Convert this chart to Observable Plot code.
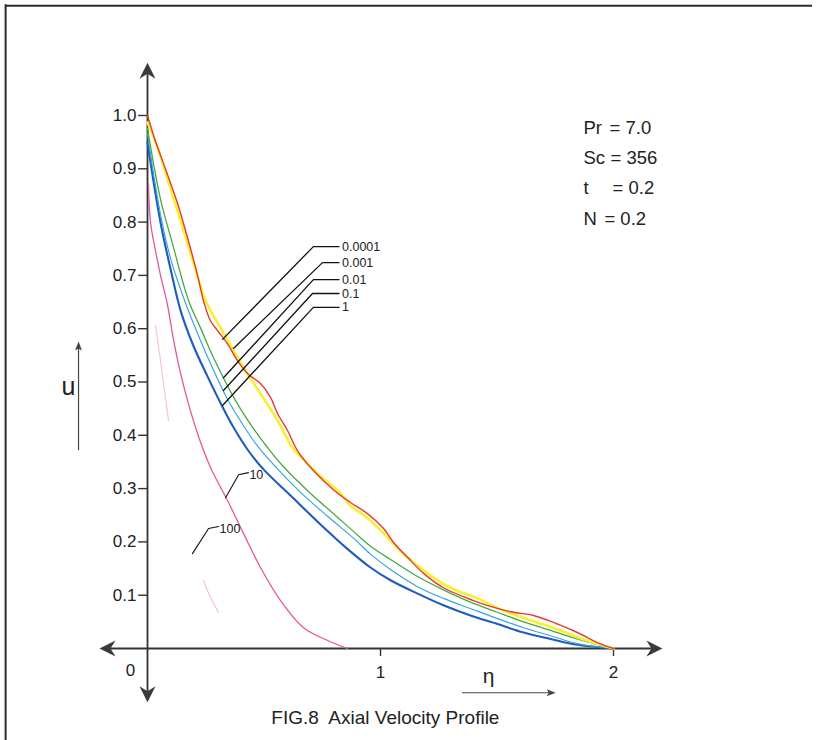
<!DOCTYPE html>
<html>
<head>
<meta charset="utf-8">
<script src="https://cdn.jsdelivr.net/npm/d3@7"></script>
<script src="https://cdn.jsdelivr.net/npm/@observablehq/plot@0.6"></script>
<style>
html, body { margin: 0; padding: 0; background: #fff; overflow: hidden; }
#wrap { width: 822px; height: 740px; overflow: hidden; background: #fff; }
#wrap svg { display: block; }
</style>
</head>
<body>
<div id="wrap"></div>
<script>
// ---------------- data ----------------
const seriesNames = ["0.0001", "0.001", "0.01", "0.1", "1", "10", "100"];

const etaRed = [0, 0.034, 0.077, 0.129, 0.185, 0.215, 0.240, 0.270, 0.300, 0.343, 0.386, 0.429, 0.485, 0.528, 0.558, 0.601, 0.644, 0.712, 0.798, 0.871, 0.944, 1.013, 1.056, 1.116, 1.185, 1.270, 1.399, 1.472, 1.558, 1.657, 1.742, 1.845, 1.931, 2.0];
const uRed   = [1.0, 0.952, 0.900, 0.835, 0.750, 0.700, 0.653, 0.615, 0.597, 0.572, 0.540, 0.516, 0.497, 0.471, 0.441, 0.409, 0.371, 0.334, 0.298, 0.274, 0.253, 0.225, 0.199, 0.171, 0.141, 0.114, 0.090, 0.079, 0.069, 0.062, 0.049, 0.030, 0.011, 0.0];

const etaYellow = [0, 0.043, 0.086, 0.142, 0.197, 0.249, 0.313, 0.369, 0.429, 0.485, 0.558, 0.622, 0.657, 0.730, 0.828, 0.871, 0.944, 1.013, 1.086, 1.202, 1.300, 1.416, 1.528, 1.644, 1.760, 1.871, 2.0];
const uYellow   = [0.987, 0.940, 0.880, 0.803, 0.724, 0.653, 0.602, 0.559, 0.516, 0.478, 0.428, 0.377, 0.360, 0.328, 0.291, 0.268, 0.245, 0.216, 0.183, 0.141, 0.114, 0.094, 0.071, 0.053, 0.036, 0.017, 0.0];

const etaGreen = [0, 0.030, 0.060, 0.107, 0.176, 0.227, 0.283, 0.378, 0.451, 0.519, 0.571, 0.687, 0.798, 0.914, 0.957, 1.043, 1.159, 1.270, 1.386, 1.502, 1.614, 1.730, 1.815, 1.901, 2.0];
const uGreen   = [0.976, 0.900, 0.835, 0.760, 0.653, 0.602, 0.546, 0.465, 0.415, 0.375, 0.347, 0.296, 0.253, 0.208, 0.192, 0.167, 0.135, 0.110, 0.087, 0.068, 0.050, 0.034, 0.022, 0.011, 0.0];

const etaLightBlue = [0, 0.030, 0.060, 0.100, 0.159, 0.215, 0.270, 0.343, 0.412, 0.472, 0.541, 0.657, 0.773, 0.884, 0.957, 1.043, 1.159, 1.270, 1.386, 1.502, 1.614, 1.730, 1.845, 2.0];
const uLightBlue   = [0.966, 0.880, 0.805, 0.730, 0.653, 0.591, 0.535, 0.468, 0.418, 0.380, 0.345, 0.293, 0.248, 0.207, 0.177, 0.148, 0.116, 0.094, 0.075, 0.056, 0.039, 0.024, 0.009, 0.0];

const etaBlue = [0, 0.030, 0.060, 0.100, 0.142, 0.197, 0.258, 0.313, 0.369, 0.433, 0.498, 0.614, 0.730, 0.858, 0.957, 1.043, 1.159, 1.270, 1.386, 1.502, 1.614, 1.730, 1.845, 2.0];
const uBlue   = [0.950, 0.865, 0.790, 0.710, 0.634, 0.568, 0.510, 0.461, 0.415, 0.371, 0.336, 0.287, 0.238, 0.187, 0.152, 0.128, 0.103, 0.081, 0.062, 0.046, 0.030, 0.018, 0.007, 0.0];

const etaPink = [0.004, 0.013, 0.034, 0.056, 0.086, 0.112, 0.142, 0.172, 0.215, 0.270, 0.343, 0.412, 0.485, 0.571, 0.670, 0.773, 0.858];
const uPink   = [0.872, 0.799, 0.747, 0.700, 0.644, 0.578, 0.516, 0.465, 0.403, 0.340, 0.278, 0.216, 0.152, 0.090, 0.039, 0.015, 0.0];

// the N=100 curve is only faintly visible in two pieces
const etaFaint = [0.034, 0.056, 0.073, 0.090, 0.165, 0.240, 0.270, 0.305];
const uFaint   = [0.606, 0.540, 0.484, 0.428, NaN, 0.128, 0.096, 0.068];

const yTicks = [0.1, 0.2, 0.3, 0.4, 0.5, 0.6, 0.7, 0.8, 0.9, 1.0];
const xTicks = [0, 1, 2];

const paramNames  = ["Pr", "Sc", "t", "N"];
const paramValues = ["= 7.0", "= 356", "= 0.2", "= 0.2"];

const axisLabelY = "u";
const axisLabelX = "η";
const caption = "FIG.8  Axial Velocity Profile";

// leader lines for the curve labels (data coordinates)
const leaderLabels  = ["0.0001", "0.001", "0.01", "0.1", "1"];
const leaderEndEta  = [0.322, 0.369, 0.326, 0.326, 0.322];
const leaderEndU    = [0.580, 0.563, 0.508, 0.484, 0.456];
const leaderKneeEta = [0.712, 0.751, 0.712, 0.708, 0.712];
const leaderKneeU   = [0.754, 0.724, 0.692, 0.666, 0.640];
const leaderTextEta = 0.822;

// ---------------- helpers ----------------
const rows = (eta, u, name) => eta.map((e, i) => ({eta: e, u: u[i], name}));
const red = rows(etaRed, uRed, seriesNames[0]);
const yellow = rows(etaYellow, uYellow, seriesNames[1]);
const green = rows(etaGreen, uGreen, seriesNames[2]);
const lightBlue = rows(etaLightBlue, uLightBlue, seriesNames[3]);
const blue = rows(etaBlue, uBlue, seriesNames[4]);
const pink = rows(etaPink, uPink, seriesNames[5]);
const faint = rows(etaFaint, uFaint, seriesNames[6]);

const leaders = [];
leaderLabels.forEach((lab, i) => {
  leaders.push({k: lab, eta: leaderEndEta[i], u: leaderEndU[i]});
  leaders.push({k: lab, eta: leaderKneeEta[i], u: leaderKneeU[i]});
  leaders.push({k: lab, eta: leaderTextEta, u: leaderKneeU[i]});
});
const leader10 = [{k: "10", eta: 0.335, u: 0.283}, {k: "10", eta: 0.391, u: 0.326}, {k: "10", eta: 0.433, u: 0.330}];
const leader100 = [{k: "100", eta: 0.193, u: 0.178}, {k: "100", eta: 0.262, u: 0.225}, {k: "100", eta: 0.305, u: 0.229}];

// layout of the parameter block
const paramEqX = [1.983, 1.987, 1.996, 1.961];
const paramY = (d, i) => 0.976 - i * 0.0565;

function arrowHead(dir, L, W, N) {
  const rot = {up: 0, right: 90, down: 180, left: 270}[dir] * Math.PI / 180;
  const c = Math.cos(rot), s = Math.sin(rot);
  const pts = [[0, 0], [W, L], [0, L - N], [-W, L]];
  return {
    draw(ctx) {
      pts.forEach(([x, y], i) => {
        const X = x * c - y * s, Y = x * s + y * c;
        if (i) ctx.lineTo(X, Y); else ctx.moveTo(X, Y);
      });
      ctx.closePath();
    }
  };
}

const axisColor = "#333";
const ink = "#222";

const plot = Plot.plot({
  width: 822,
  height: 740,
  margin: 0,
  style: {fontFamily: "'Liberation Sans', Arial, sans-serif", background: "#fff", overflow: "visible"},
  x: {domain: [0, 2], range: [147, 613], axis: null},
  y: {domain: [0, 1], range: [648, 115], axis: null},
  marks: [
    // outer frame (top and left edges only)
    Plot.ruleY([1.206], {x1: -0.609, x2: 2.854, stroke: "#2b2b2b", strokeWidth: 2}),
    Plot.ruleX([-0.609], {y1: 1.208, y2: -0.2, stroke: "#2b2b2b", strokeWidth: 2}),
    // axes
    Plot.ruleY([0], {x1: -0.19, x2: 2.19, stroke: axisColor, strokeWidth: 1.8}),
    Plot.ruleX([0], {y1: -0.09, y2: 1.09, stroke: axisColor, strokeWidth: 1.8}),
    Plot.dot([{x: 0, y: 1.099}], {x: "x", y: "y", symbol: arrowHead("up", 16, 8, 5), fill: "#3a3a3a", stroke: "none"}),
    Plot.dot([{x: 0, y: -0.101}], {x: "x", y: "y", symbol: arrowHead("down", 16, 8, 5), fill: "#3a3a3a", stroke: "none"}),
    Plot.dot([{x: -0.206, y: 0}], {x: "x", y: "y", symbol: arrowHead("left", 16, 8, 5), fill: "#3a3a3a", stroke: "none"}),
    Plot.dot([{x: 2.21, y: 0}], {x: "x", y: "y", symbol: arrowHead("right", 16, 8, 5), fill: "#3a3a3a", stroke: "none"}),
    // y ticks and labels
    Plot.ruleY(yTicks, {x1: -0.038, x2: 0, stroke: axisColor, strokeWidth: 1.4}),
    Plot.text(yTicks, {x: 0, y: d => d, text: d => d.toFixed(1), textAnchor: "end", dx: -11, fontSize: 17, fill: ink}),
    // x ticks and labels
    Plot.ruleX(xTicks.filter(d => d > 0), {y1: 0, y2: -0.015, stroke: axisColor, strokeWidth: 1.4}),
    Plot.text(xTicks.filter(d => d > 0), {x: d => d, y: 0, text: d => String(d), dy: 24, fontSize: 17, fill: ink}),
    Plot.text(xTicks.filter(d => d === 0), {x: d => d, y: 0, text: d => String(d), dx: -17, dy: 22, fontSize: 17, fill: ink}),
    // axis titles with their arrows
    Plot.text([axisLabelY], {x: -0.339, y: 0.49, text: d => d, fontSize: 25, fill: ink}),
    Plot.ruleX([-0.296], {y1: 0.371, y2: 0.565, stroke: "#444", strokeWidth: 1.2}),
    Plot.dot([{x: -0.296, y: 0.576}], {x: "x", y: "y", symbol: arrowHead("up", 9, 3.5, 2), fill: "#444", stroke: "none"}),
    Plot.text([axisLabelX], {x: 1.464, y: -0.052, text: d => d, fontSize: 21, fill: ink}),
    Plot.ruleY([-0.083], {x1: 1.352, x2: 1.735, stroke: "#444", strokeWidth: 1.2}),
    Plot.dot([{x: 1.752, y: -0.083}], {x: "x", y: "y", symbol: arrowHead("right", 9, 3.5, 2), fill: "#444", stroke: "none"}),
    // caption
    Plot.text([caption], {x: 1.021, y: -0.131, text: d => d, fontSize: 19, fill: ink}),
    // parameters
    Plot.text(paramNames, {x: 1.871, y: paramY, text: d => d, textAnchor: "start", fontSize: 18.5, fill: ink}),
    Plot.text(paramValues, {x: (d, i) => paramEqX[i], y: paramY, text: d => d, textAnchor: "start", fontSize: 18.5, fill: ink}),
    // curves
    Plot.line(faint, {x: "eta", y: "u", stroke: "#f3c3d8", strokeWidth: 1.2, curve: "catmull-rom"}),
    Plot.line(pink, {x: "eta", y: "u", stroke: "#e4589b", strokeWidth: 1.3, curve: "catmull-rom"}),
    Plot.line(blue, {x: "eta", y: "u", stroke: "#1f5cbf", strokeWidth: 2.1, curve: "catmull-rom"}),
    Plot.line(lightBlue, {x: "eta", y: "u", stroke: "#3aa6dc", strokeWidth: 1.2, curve: "catmull-rom"}),
    Plot.line(green, {x: "eta", y: "u", stroke: "#47a842", strokeWidth: 1.3, curve: "catmull-rom"}),
    Plot.line(yellow, {x: "eta", y: "u", stroke: "#f6f02e", strokeWidth: 2.6, curve: "catmull-rom"}),
    Plot.line(red, {x: "eta", y: "u", stroke: "#e23b36", strokeWidth: 1.4, curve: "catmull-rom"}),
    // leader lines + labels
    Plot.line(leaders, {x: "eta", y: "u", z: "k", stroke: "#111", strokeWidth: 1.3}),
    Plot.line(leader10, {x: "eta", y: "u", stroke: "#111", strokeWidth: 1.1}),
    Plot.line(leader100, {x: "eta", y: "u", stroke: "#111", strokeWidth: 1.1}),
    Plot.text(leaderLabels, {x: leaderTextEta, y: (d, i) => leaderKneeU[i], text: d => d, textAnchor: "start", dx: 3, fontSize: 12.5, fill: ink}),
    Plot.text([seriesNames[5]], {x: 0.433, y: 0.325, text: d => d, textAnchor: "start", dx: 1, fontSize: 12.5, fill: ink}),
    Plot.text([seriesNames[6]], {x: 0.305, y: 0.224, text: d => d, textAnchor: "start", dx: 1, fontSize: 12.5, fill: ink})
  ]
});

document.getElementById("wrap").appendChild(plot);
</script>
</body>
</html>
